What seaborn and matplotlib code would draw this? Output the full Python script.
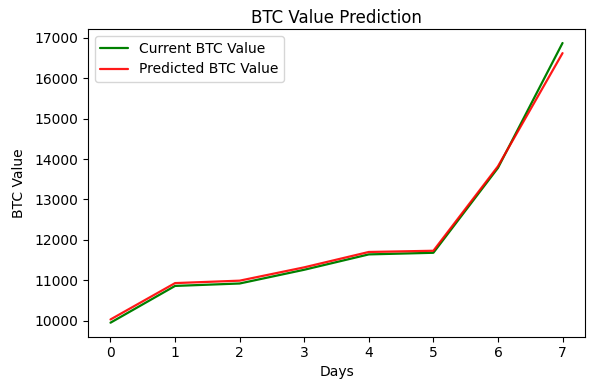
import matplotlib
matplotlib.use("Agg")
import matplotlib.pyplot as plt
import seaborn as sns
import pandas as pd

days = [0, 1, 2, 3, 4, 5, 6, 7]
current_btc = [9950, 10860, 10920, 11260, 11640, 11680, 13780, 16870]
predicted_btc = [10030, 10930, 10990, 11320, 11700, 11730, 13820, 16620]

sns.set_style("ticks", {"axes.edgecolor": "black", "text.color": "black",
                        "axes.labelcolor": "black", "xtick.color": "black",
                        "ytick.color": "black"})
plt.rcParams['font.family'] = ['DejaVu Sans']

df = pd.DataFrame({"Days": days, "Current": current_btc, "Predicted": predicted_btc})

fig, ax = plt.subplots(figsize=(6.02, 3.87), dpi=100)
sns.lineplot(data=df, x="Days", y="Current", color="green", label="Current BTC Value", ax=ax, linewidth=1.6)
sns.lineplot(data=df, x="Days", y="Predicted", color="red", alpha=0.9, label="Predicted BTC Value", ax=ax, linewidth=1.6)
ax.set_title("BTC Value Prediction", fontsize=12, pad=4)
ax.set_xlabel("Days", fontsize=10, labelpad=3)
ax.set_ylabel("BTC Value", fontsize=10, labelpad=6)
ax.set_xticks(days)
ax.set_yticks([10000, 11000, 12000, 13000, 14000, 15000, 16000, 17000])
ax.tick_params(labelsize=10, colors="black")
for s in ax.spines.values():
    s.set_visible(True)
    s.set_linewidth(0.8)
    s.set_color("black")
ax.legend(loc="upper left", fontsize=10, frameon=True)
fig.subplots_adjust(left=0.146, right=0.972, top=0.925, bottom=0.130)
fig.savefig("out.png", dpi=100)
